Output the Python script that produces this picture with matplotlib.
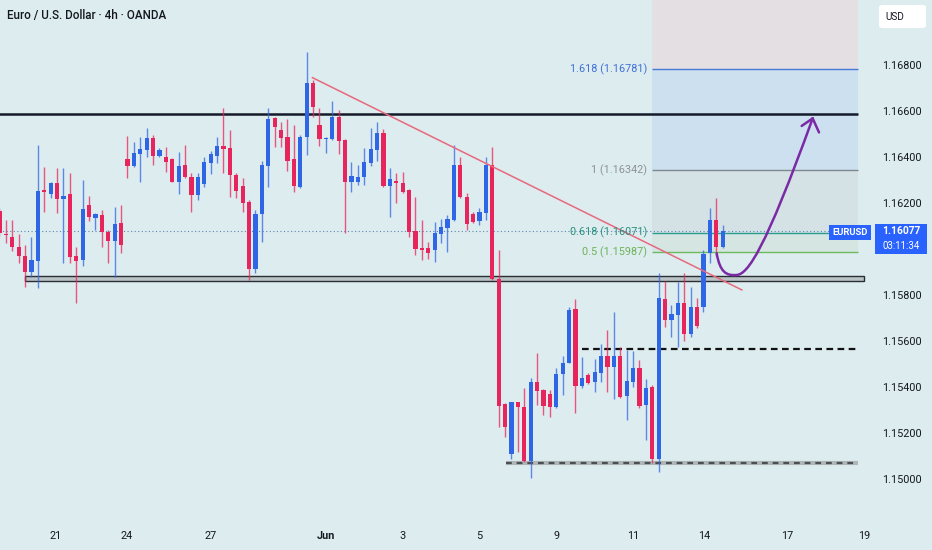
import matplotlib
matplotlib.use('Agg')
import matplotlib.pyplot as plt
from matplotlib.patches import Rectangle, FancyBboxPatch
from matplotlib.path import Path
from matplotlib.patches import PathPatch
import numpy as np

plt.rcParams['font.family'] = ['Roboto', 'DejaVu Sans']

# ---------------- data (EUR/USD 4h candles) ----------------
opens = [1.16165, 1.16067, 1.16053, 1.16010, 1.15970, 1.15901, 1.15949, 1.16257, 1.16239, 1.16286,
         1.16219, 1.16239, 1.15970, 1.15952, 1.16190, 1.16136, 1.16148, 1.16075, 1.16036, 1.16112,
         1.16391, 1.16361, 1.16413, 1.16430, 1.16481, 1.16406, 1.16401, 1.16390, 1.16290, 1.16365,
         1.16314, 1.16235, 1.16281, 1.16375, 1.16406, 1.16448, 1.16438, 1.16322, 1.16275, 1.16203,
         1.15913, 1.16152, 1.16362, 1.16568, 1.16517, 1.16486, 1.16390, 1.16271, 1.16488, 1.16720,
         1.16539, 1.16477, 1.16478, 1.16575, 1.16474, 1.16293, 1.16293, 1.16312, 1.16373, 1.16430,
         1.16503, 1.16275, 1.16297, 1.16288, 1.16257, 1.16080, 1.16003, 1.16003, 1.15996, 1.16065,
         1.16093, 1.16126, 1.16365, 1.16227, 1.16152, 1.16123, 1.16158, 1.16365, 1.15868, 1.15325,
         1.15109, 1.15333, 1.15314, 1.15080, 1.15420, 1.15387, 1.15368, 1.15312, 1.15455, 1.15506,
         1.15738, 1.15404, 1.15452, 1.15423, 1.15462, 1.15536, 1.15486, 1.15536, 1.15362, 1.15423,
         1.15481, 1.15322, 1.15401, 1.15086, 1.15783, 1.15691, 1.15713, 1.15767, 1.15630, 1.15747,
         1.15749, 1.15981, 1.16126, 1.16010]
highs = [1.16178, 1.16126, 1.16126, 1.16065, 1.16017, 1.16053, 1.16452, 1.16355, 1.16293, 1.16351,
         1.16351, 1.16332, 1.16010, 1.16300, 1.16230, 1.16158, 1.16170, 1.16083, 1.16181, 1.16191,
         1.16491, 1.16467, 1.16488, 1.16525, 1.16496, 1.16438, 1.16445, 1.16394, 1.16423, 1.16452,
         1.16329, 1.16329, 1.16401, 1.16427, 1.16488, 1.16612, 1.16517, 1.16329, 1.16307, 1.16213,
         1.16170, 1.16384, 1.16612, 1.16574, 1.16553, 1.16564, 1.16539, 1.16496, 1.16858, 1.16735,
         1.16612, 1.16488, 1.16643, 1.16604, 1.16477, 1.16380, 1.16365, 1.16438, 1.16525, 1.16553,
         1.16520, 1.16351, 1.16332, 1.16336, 1.16260, 1.16227, 1.16126, 1.16032, 1.16119, 1.16129,
         1.16148, 1.16452, 1.16401, 1.16242, 1.16162, 1.16177, 1.16401, 1.16445, 1.15996, 1.15329,
         1.15336, 1.15336, 1.15394, 1.15438, 1.15547, 1.15390, 1.15387, 1.15481, 1.15535, 1.15749,
         1.15781, 1.15532, 1.15460, 1.15520, 1.15587, 1.15648, 1.15727, 1.15575, 1.15561, 1.15558,
         1.15517, 1.15433, 1.15409, 1.15894, 1.15862, 1.15757, 1.15858, 1.15897, 1.15833, 1.15786,
         1.15996, 1.16177, 1.16220, 1.16104]
lows = [1.16057, 1.16026, 1.15993, 1.15938, 1.15833, 1.15880, 1.15829, 1.16160, 1.16220, 1.16155,
        1.15940, 1.15938, 1.15764, 1.15926, 1.16123, 1.16083, 1.16010, 1.15938, 1.15880, 1.15981,
        1.16307, 1.16355, 1.16293, 1.16401, 1.16365, 1.16401, 1.16336, 1.16291, 1.16239, 1.16307,
        1.16162, 1.16213, 1.16271, 1.16326, 1.16373, 1.16329, 1.16225, 1.16220, 1.16162, 1.15865,
        1.15894, 1.16032, 1.16271, 1.16445, 1.16445, 1.16340, 1.16247, 1.16264, 1.16409, 1.16575,
        1.16448, 1.16416, 1.16474, 1.16413, 1.16068, 1.16249, 1.16278, 1.16278, 1.16361, 1.16384,
        1.16271, 1.16138, 1.16199, 1.16242, 1.16051, 1.15974, 1.15952, 1.15955, 1.15945, 1.16025,
        1.15988, 1.16123, 1.16220, 1.16083, 1.16112, 1.16104, 1.16126, 1.15865, 1.15227, 1.15181,
        1.15086, 1.15119, 1.15076, 1.15003, 1.15322, 1.15278, 1.15271, 1.15307, 1.15365, 1.15503,
        1.15286, 1.15394, 1.15413, 1.15380, 1.15423, 1.15380, 1.15347, 1.15351, 1.15257, 1.15401,
        1.15307, 1.15170, 1.15071, 1.15032, 1.15662, 1.15616, 1.15573, 1.15601, 1.15619, 1.15655,
        1.15727, 1.15938, 1.15970, 1.16003]
closes = [1.16070, 1.16061, 1.16007, 1.15970, 1.15901, 1.15952, 1.16253, 1.16249, 1.16286, 1.16217,
          1.16232, 1.15964, 1.15949, 1.16173, 1.16140, 1.16152, 1.16075, 1.16036, 1.16109, 1.16017,
          1.16362, 1.16416, 1.16433, 1.16481, 1.16406, 1.16430, 1.16380, 1.16293, 1.16361, 1.16314,
          1.16235, 1.16314, 1.16380, 1.16413, 1.16448, 1.16435, 1.16322, 1.16253, 1.16201, 1.15913,
          1.16152, 1.16365, 1.16565, 1.16532, 1.16481, 1.16384, 1.16275, 1.16488, 1.16720, 1.16616,
          1.16477, 1.16484, 1.16575, 1.16471, 1.16293, 1.16317, 1.16314, 1.16380, 1.16435, 1.16503,
          1.16275, 1.16303, 1.16286, 1.16249, 1.16073, 1.15999, 1.15996, 1.15984, 1.16068, 1.16094,
          1.16130, 1.16365, 1.16227, 1.16109, 1.16119, 1.16162, 1.16365, 1.15868, 1.15319, 1.15225,
          1.15333, 1.15314, 1.15080, 1.15420, 1.15384, 1.15319, 1.15312, 1.15455, 1.15506, 1.15735,
          1.15406, 1.15439, 1.15419, 1.15464, 1.15536, 1.15486, 1.15536, 1.15355, 1.15426, 1.15481,
          1.15317, 1.15394, 1.15086, 1.15788, 1.15691, 1.15717, 1.15767, 1.15630, 1.15747, 1.15665,
          1.15978, 1.16126, 1.16010, 1.16077]

date_ticks = [8.8, 19.9, 33.0, 51.0, 63.0, 75.0, 87.0, 99.0, 110.1, 123.1, 135.1]
date_labels = ['21', '24', '27', 'Jun', '3', '5', '9', '11', '14', '17', '19']
# 1.16000 is hidden behind the live price label in the reference
price_ticks = [1.150, 1.152, 1.154, 1.156, 1.158, 1.162, 1.164, 1.166, 1.168]

last_price = 1.16077
resistance = 1.16587
support_zone = (1.15862, 1.15883)
mid_level = 1.15565
low_level = 1.15071
fib_levels = [1.16781, 1.16342, 1.16071, 1.15987]
fib_names = ['1.618', '1', '0.618', '0.5']
trend_pts = [(48.9, 1.16745), (116.0, 1.15822)]
# purple projected path (two cubic segments) and arrow wings
proj_pts = [(112.06, 1.15981), (112.58, 1.15900), (113.52, 1.15883), (115.19, 1.15887),
            (116.95, 1.15891), (119.61, 1.15996), (127.06, 1.16568)]
arrow_wings = [(125.34, 1.16535), (128.05, 1.16507)]

# ---------------- figure ----------------
BG = '#ddecee'
W, H = 932, 550
fig = plt.figure(figsize=(W / 100, H / 100), dpi=100, facecolor=BG)
ax = fig.add_axes([0, 30 / H, 872 / W, 520 / H])
ax.set_facecolor(BG)
ymax = 1.168 + 65 / 23000
ymin = 1.168 - 455 / 23000
ax.set_ylim(ymin, ymax)
ax.set_xlim(0.08, 136.33)
for s in ax.spines.values():
    s.set_visible(False)

BLUE = '#2f66e6'
RED = '#e8245c'

x0f, x1f = 101.9, 134.2
# fib zone fills
ax.add_patch(Rectangle((x0f, fib_levels[0]), x1f - x0f, ymax - fib_levels[0], color='#e3dfe3', lw=0, zorder=0.5))
ax.add_patch(Rectangle((x0f, fib_levels[1]), x1f - x0f, fib_levels[0] - fib_levels[1], color='#cde0ef', lw=0, zorder=0.5))
ax.add_patch(Rectangle((x0f, fib_levels[2]), x1f - x0f, fib_levels[1] - fib_levels[2], color='#d4e2e5', lw=0, zorder=0.5))
ax.add_patch(Rectangle((x0f, fib_levels[3]), x1f - x0f, fib_levels[2] - fib_levels[3], color='#d4e5e2', lw=0, zorder=0.5))
fib_line_colors = ['#4a78d6', '#7f888d', '#2a9d8f', '#6dbb5e']
fib_text_colors = ['#3f6fd8', '#8c9297', '#2b8f7f', '#6db25a']
for lvl, nm, lc, tc in zip(fib_levels, fib_names, fib_line_colors, fib_text_colors):
    ax.hlines(lvl, x0f, x1f, color=lc, lw=1.0, zorder=1)
    ax.text(101.2, lvl, f'{nm} ({lvl:.5f})', ha='right', va='center', fontsize=7.8, color=tc, zorder=6)

# last price dotted line
ax.hlines(last_price, 0, 129.6, color='#5f86b3', lw=0.8, linestyles=(0, (1, 2.2)), zorder=1.2)

# resistance
ax.hlines(resistance, -1, 134.2, color='#151a2a', lw=1.8, zorder=3)
# support zone
ax.add_patch(Rectangle((4.0, support_zone[0]), 135.1 - 4.0, support_zone[1] - support_zone[0],
                       facecolor='#b9c2c4', edgecolor='#2a2e33', lw=1.0, zorder=3))
# mid dashed level
ax.hlines(mid_level, 91.0, 134.2, color='#111111', lw=1.6, linestyles=(0, (3, 2)), zorder=3)
# low dashed level
ax.hlines(low_level, 79.1, 134.2, color='#aeb6b8', lw=3.0, zorder=2.9)
ax.hlines(low_level, 79.1, 134.2, color='#4a4f52', lw=1.6, linestyles=(0, (2.6, 2.2)), zorder=3)

# candles
xs = np.arange(len(opens))
o = np.array(opens); h = np.array(highs); l = np.array(lows); c = np.array(closes)
up = c >= o
cols = np.where(up, BLUE, RED)
ax.vlines(xs, l, h, colors=cols, lw=1.0, alpha=0.75, zorder=4)
bottoms = np.minimum(o, c)
heights = np.maximum(np.abs(c - o), 0.00005)
ax.bar(xs, heights, bottom=bottoms, width=0.64, color=cols, lw=0, zorder=4.5)

# trendline
ax.plot([trend_pts[0][0], trend_pts[1][0]], [trend_pts[0][1], trend_pts[1][1]],
        color='#e8697d', lw=1.1, zorder=5)

# projection path
codes = [Path.MOVETO, Path.CURVE4, Path.CURVE4, Path.CURVE4, Path.CURVE4, Path.CURVE4, Path.CURVE4]
ax.add_patch(PathPatch(Path(proj_pts, codes), facecolor='none', edgecolor='#7b2aa6', lw=1.8,
                       capstyle='round', zorder=6))
tip = proj_pts[-1]
for wx, wy in arrow_wings:
    ax.plot([wx, tip[0]], [wy, tip[1]], color='#7b2aa6', lw=1.8, solid_capstyle='round', zorder=6)

# axes ticks
ax.yaxis.tick_right()
ax.set_yticks(price_ticks)
ax.set_yticklabels([f'{p:.5f}' for p in price_ticks])
ax.tick_params(axis='y', length=0, pad=7, labelsize=7.8, labelcolor='#131722')
ax.set_xticks(date_ticks)
ax.set_xticklabels(date_labels)
ax.tick_params(axis='x', length=0, pad=8, labelsize=7.8, labelcolor='#131722')
for t in ax.get_xticklabels():
    if t.get_text() == 'Jun':
        t.set_fontweight('bold')

# title
fig.text(7 / W, 1 - 16 / H, 'Euro / U.S. Dollar · 4h · OANDA', ha='left', va='center',
         fontsize=8.4, color='#131722', fontweight='medium')

# USD box
fig.add_artist(FancyBboxPatch((879 / W, 1 - 28 / H), 47 / W, 23 / H,
                              boxstyle='round,pad=0,rounding_size=0.004', transform=fig.transFigure,
                              facecolor='white', edgecolor='none'))
fig.text(885 / W, 1 - 16.5 / H, 'USD', ha='left', va='center', fontsize=7.2, color='#131722')

# EURUSD label
fig.add_artist(Rectangle((829 / W, 1 - 240 / H), 42 / W, 15 / H, transform=fig.transFigure,
                         facecolor='#2962ff', edgecolor='none'))
fig.text(850 / W, 1 - 232.5 / H, 'EURUSD', ha='center', va='center', fontsize=6.8,
         color='white', fontweight='bold')
# price label
fig.add_artist(Rectangle((875 / W, 1 - 254 / H), 52 / W, 30 / H, transform=fig.transFigure,
                         facecolor='#2962ff', edgecolor='none'))
fig.text(901 / W, 1 - 231.5 / H, f'{last_price:.5f}', ha='center', va='center', fontsize=7.4,
         color='white', fontweight='bold')
fig.text(901 / W, 1 - 246.0 / H, '03:11:34', ha='center', va='center', fontsize=6.9, color='white')

fig.savefig('out.png', dpi=100, facecolor=BG)
